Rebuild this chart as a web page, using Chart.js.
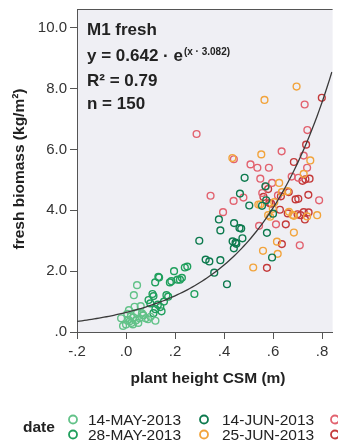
<!DOCTYPE html>
<html>
<head>
<meta charset="utf-8">
<script src="https://cdn.jsdelivr.net/npm/chart.js@4.4.1/dist/chart.umd.min.js"></script>
<style>
html, body { margin: 0; padding: 0; background: #fff; overflow: hidden; }
#wrap { width: 338px; height: 444px; }
</style>
</head>
<body>
<div id="wrap"><canvas id="chart" width="338" height="444"></canvas></div>
<script>
// legend labels (the last two are cut off in the original)
const dates = ['14-MAY-2013', '28-MAY-2013', '14-JUN-2013', '25-JUN-2013', '09-JUL-2013', '23-JUL-2013'];
const dateColors = ['#62c288', '#1f9f5c', '#0d7a4e', '#f2a43c', '#e2626f', '#c43a3a'];

// plant height CSM (m) / fresh biomass (kg/m²) per date
const may14X = [-0.02, -0.012, 0.00, 0.005, 0.01, 0.012, 0.02, 0.022, 0.03, 0.032, 0.035, 0.04, 0.045, 0.05, 0.055, 0.06, 0.065, 0.07, 0.08, 0.09, 0.10, 0.12, 0.028, 0.045, 0.015];
const may14Y = [0.45, 0.20, 0.25, 0.60, 0.40, 0.72, 0.52, 0.30, 0.48, 1.21, 0.83, 0.38, 1.54, 0.30, 0.45, 0.85, 0.61, 0.55, 0.45, 0.42, 0.50, 0.37, 0.25, 0.62, 0.35];

const may28X = [0.132, 0.119, 0.179, 0.21, 0.22, 0.228, 0.165, 0.172, 0.108, 0.112, 0.099, 0.092, 0.12, 0.13, 0.14, 0.145, 0.112, 0.196, 0.25, 0.24, 0.279, 0.135, 0.185, 0.07, 0.155];
const may28Y = [1.81, 1.63, 1.63, 1.72, 1.72, 1.78, 1.21, 1.16, 1.25, 1.18, 0.94, 1.05, 0.75, 0.90, 0.82, 0.68, 0.62, 2.00, 2.15, 2.12, 1.25, 1.79, 1.67, 0.55, 1.00];

const jun14X = [0.325, 0.34, 0.385, 0.36, 0.412, 0.379, 0.385, 0.441, 0.463, 0.435, 0.447, 0.44, 0.475, 0.45, 0.465, 0.484, 0.503, 0.569, 0.575, 0.596, 0.60, 0.572, 0.555, 0.299, 0.47];
const jun14Y = [2.38, 2.32, 2.36, 1.95, 1.57, 3.70, 3.34, 3.58, 3.42, 2.98, 2.94, 2.75, 3.08, 2.90, 4.55, 5.07, 4.16, 4.79, 3.26, 2.45, 3.89, 4.33, 4.15, 3.00, 3.40];

const jun25X = [0.565, 0.696, 0.552, 0.434, 0.752, 0.725, 0.625, 0.659, 0.636, 0.605, 0.54, 0.548, 0.599, 0.68, 0.685, 0.739, 0.58, 0.588, 0.685, 0.616, 0.559, 0.619, 0.519, 0.78, 0.665];
const jun25Y = [7.63, 8.07, 5.84, 5.72, 5.64, 5.20, 4.90, 4.63, 4.60, 4.27, 4.19, 4.19, 4.05, 3.85, 3.82, 3.80, 3.84, 3.79, 3.27, 2.97, 2.67, 2.57, 2.12, 3.84, 3.95];

const jul09X = [0.729, 0.288, 0.74, 0.635, 0.44, 0.725, 0.508, 0.536, 0.583, 0.739, 0.548, 0.596, 0.57, 0.676, 0.703, 0.345, 0.479, 0.556, 0.62, 0.439, 0.788, 0.396, 0.543, 0.612, 0.709];
const jul09Y = [7.48, 6.51, 6.64, 5.94, 5.68, 5.80, 5.51, 5.40, 5.40, 5.40, 5.04, 4.90, 4.78, 5.11, 5.07, 4.48, 4.42, 4.57, 4.49, 4.31, 4.33, 3.94, 3.49, 3.54, 2.85];

const jul23X = [0.799, 0.735, 0.685, 0.732, 0.749, 0.664, 0.744, 0.561, 0.692, 0.703, 0.632, 0.585, 0.592, 0.628, 0.66, 0.712, 0.725, 0.70, 0.652, 0.636, 0.575, 0.72, 0.58, 0.745, 0.73];
const jul23Y = [7.70, 6.16, 5.59, 5.02, 5.04, 4.60, 4.51, 4.44, 4.36, 4.38, 4.46, 4.24, 4.22, 4.02, 3.90, 3.84, 3.94, 3.87, 3.54, 2.89, 2.11, 4.97, 4.70, 3.93, 3.70];

const seriesX = [may14X, may28X, jun14X, jun25X, jul09X, jul23X];
const seriesY = [may14Y, may28Y, jun14Y, jun25Y, jul09Y, jul23Y];

// exponential fit y = a * e^(x * b)
const FIT_A = 0.642;
const FIT_B = 3.082;
const X_MIN = -0.2, X_MAX = 0.843;
const Y_MIN = 0, Y_MAX = 10.62;

const FONT = "'Liberation Sans', Arial, sans-serif";

const fitPoints = [];
for (let x = X_MIN; x <= X_MAX + 1e-9; x += 0.01) {
    fitPoints.push({ x: x, y: FIT_A * Math.exp(x * FIT_B) });
}

const datasets = seriesX.map(function(xs, i) {
    return {
        type: 'scatter',
        label: dates[i],
        data: xs.map(function(x, j) { return { x: x, y: seriesY[i][j] }; }),
        borderColor: dateColors[i],
        backgroundColor: 'rgba(0,0,0,0)',
        pointRadius: 3.4,
        pointBorderWidth: 1.4,
        order: 1
    };
});
datasets.push({
    type: 'line',
    label: 'fit',
    data: fitPoints,
    borderColor: '#3a3a3a',
    borderWidth: 1.3,
    pointRadius: 0,
    fill: false,
    order: 0
});

function fmtTick(v) {
    return v.toFixed(1).replace(/^(-?)0\./, '$1.');
}

const decor = {
    id: 'decor',
    beforeDraw(chart) {
        const ctx = chart.ctx, a = chart.chartArea;
        ctx.save();
        ctx.fillStyle = '#efeff4';
        ctx.fillRect(a.left, a.top, a.right - a.left, a.bottom - a.top);
        ctx.restore();
    },
    afterDraw(chart) {
        const ctx = chart.ctx, a = chart.chartArea;
        ctx.save();
        // top border of the plot frame
        ctx.strokeStyle = '#555';
        ctx.lineWidth = 1;
        ctx.beginPath();
        ctx.moveTo(a.left, a.top + 0.5);
        ctx.lineTo(a.right, a.top + 0.5);
        ctx.stroke();

        // fit annotation
        ctx.fillStyle = '#222';
        ctx.textAlign = 'left';
        ctx.textBaseline = 'alphabetic';
        ctx.font = 'bold 17px ' + FONT;
        ctx.fillText('M1 fresh', 87, 35);
        const eq = 'y = ' + FIT_A.toFixed(3) + ' · e';
        ctx.fillText(eq, 87, 60.5);
        const w = ctx.measureText(eq).width;
        ctx.fillText('R² = 0.79', 87, 86);
        ctx.fillText('n = 150', 87, 109);
        ctx.font = 'bold 10px ' + FONT;
        ctx.fillText('(x · ' + FIT_B.toFixed(3) + ')', 87 + w + 1, 55);

        // axis titles
        ctx.font = 'bold 15.5px ' + FONT;
        ctx.textAlign = 'center';
        ctx.textBaseline = 'middle';
        ctx.fillText('plant height CSM (m)', 208, 379);
        ctx.save();
        ctx.translate(20, 169);
        ctx.rotate(-Math.PI / 2);
        ctx.fillText('fresh biomass (kg/m²)', 0, 0);
        ctx.restore();

        // legend
        ctx.textAlign = 'left';
        ctx.fillText('date', 23, 428);
        ctx.font = '15.5px ' + FONT;
        const colX = [73, 204, 335];
        const txtX = [88, 222, 352];
        const rowY = [419.5, 434.5];
        for (let i = 0; i < dates.length; i++) {
            const c = Math.floor(i / 2), r = i % 2;
            ctx.strokeStyle = dateColors[i];
            ctx.lineWidth = 1.8;
            ctx.beginPath();
            ctx.arc(colX[c], rowY[r], 4, 0, Math.PI * 2);
            ctx.stroke();
            ctx.fillStyle = '#222';
            ctx.fillText(dates[i], txtX[c], rowY[r] + 1);
        }
        ctx.restore();
    }
};

new Chart(document.getElementById('chart').getContext('2d'), {
    data: { datasets: datasets },
    options: {
        responsive: false,
        animation: false,
        devicePixelRatio: 1,
        layout: { padding: { top: 9, left: 0, right: 0, bottom: 0 } },
        plugins: { legend: { display: false }, tooltip: { enabled: false } },
        scales: {
            x: {
                type: 'linear',
                min: X_MIN,
                max: X_MAX,
                afterFit: function(s) { s.height = 112; s.paddingLeft = 0; s.paddingRight = 0; },
                ticks: {
                    stepSize: 0.2,
                    includeBounds: false,
                    maxRotation: 0,
                    padding: 4,
                    color: '#333',
                    font: { family: FONT, size: 15 },
                    callback: function(v) { return fmtTick(v); }
                },
                grid: { drawOnChartArea: false, drawTicks: true, tickLength: 7, color: '#555' },
                border: { display: true, color: '#555' }
            },
            y: {
                type: 'linear',
                min: Y_MIN,
                max: Y_MAX,
                afterFit: function(s) { s.width = 77; s.paddingTop = 0; s.paddingBottom = 0; },
                ticks: {
                    stepSize: 2,
                    includeBounds: false,
                    padding: 3,
                    color: '#333',
                    font: { family: FONT, size: 15 },
                    callback: function(v) { return fmtTick(v); }
                },
                grid: { drawOnChartArea: false, drawTicks: true, tickLength: 7, color: '#555' },
                border: { display: true, color: '#555' }
            }
        }
    },
    plugins: [decor]
});
</script>
</body>
</html>
